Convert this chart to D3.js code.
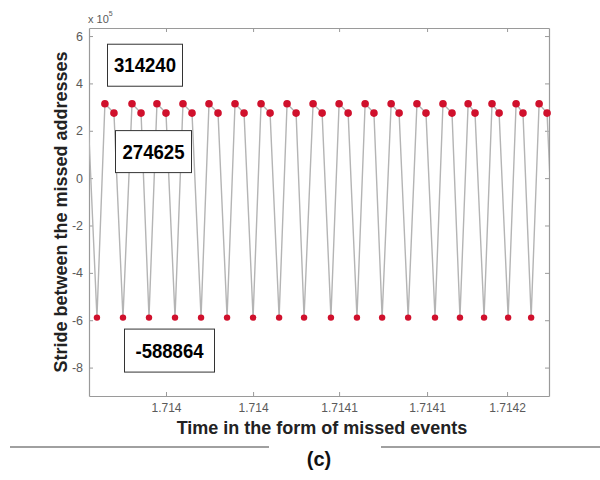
<!DOCTYPE html>
<html>
<head>
<meta charset="utf-8">
<script src="https://cdn.jsdelivr.net/npm/d3@7"></script>
<style>
  html, body { margin: 0; padding: 0; background: #fff; }
  svg { display: block; font-family: "Liberation Sans", Arial, sans-serif; }
</style>
</head>
<body>
<svg id="chart" width="600" height="480"></svg>
<script>
// ---- data ----
const eventTimes = [
  1.7139637, 1.7139679, 1.7139716, 1.7139758, 1.7139800, 1.7139842, 1.7139884, 1.7139921,
  1.7139958, 1.7140000, 1.7140042, 1.7140079, 1.7140121, 1.7140163, 1.7140200, 1.7140242,
  1.7140284, 1.7140321, 1.7140363, 1.7140405, 1.7140442, 1.7140484, 1.7140526, 1.7140563,
  1.7140605, 1.7140642, 1.7140684, 1.7140726, 1.7140767, 1.7140805, 1.7140847, 1.7140888,
  1.7140926, 1.7140967, 1.7141005, 1.7141047, 1.7141084, 1.7141126, 1.7141167, 1.7141209,
  1.7141251, 1.7141288, 1.7141330, 1.7141367, 1.7141405, 1.7141437, 1.7141479, 1.7141516,
  1.7141549, 1.7141591, 1.7141628, 1.7141660, 1.7141698, 1.7141735, 1.7141772, 1.7141814
];
const strides = [
  274625,
  -588864, 314240, 274625, -588864, 314240, 274625, -588864, 314240, 274625,
  -588864, 314240, 274625, -588864, 314240, 274625, -588864, 314240, 274625,
  -588864, 314240, 274625, -588864, 314240, 274625, -588864, 314240, 274625,
  -588864, 314240, 274625, -588864, 314240, 274625, -588864, 314240, 274625,
  -588864, 314240, 274625, -588864, 314240, 274625, -588864, 314240, 274625,
  -588864, 314240, 274625, -588864, 314240, 274625, -588864, 314240, 274625,
  -588864
];
const xDomain = [1.7139642, 1.7141781];
const yDomain = [-920000, 634000];
const xTickValues = [1.7140000, 1.7140405, 1.7140805, 1.7141214, 1.7141586];
const xTickLabels = ["1.714", "1.714", "1.7141", "1.7141", "1.7142"];
const yTickValues = [-800000, -600000, -400000, -200000, 0, 200000, 400000, 600000];
const yTickLabels = ["-8", "-6", "-4", "-2", "0", "2", "4", "6"];
const annotations = [
  { text: "314240", value: 314240 },
  { text: "274625", value: 274625 },
  { text: "-588864", value: -588864 }
];
const xTitle = "Time in the form of missed events";
const yTitle = "Stride between the missed addresses";
const panelLabel = "(c)";

// ---- layout ----
const svg = d3.select("#chart");
const L = 89, R = 549, T = 28, B = 396;
const x = d3.scaleLinear().domain(xDomain).range([L, R]);
const y = d3.scaleLinear().domain(yDomain).range([B, T]);
const axisColor = "#9a9a9a";
const tickTextColor = "#5a5a5a";

svg.append("defs").append("clipPath").attr("id", "plotclip")
  .append("rect").attr("x", L).attr("y", T).attr("width", R - L).attr("height", B - T);

// axes (MATLAB style box with inward ticks)
function styleAxis(g) {
  g.select(".domain").attr("stroke", axisColor).attr("stroke-width", 1.2);
  g.selectAll(".tick line").attr("stroke", axisColor).attr("stroke-width", 1);
  g.selectAll(".tick text").attr("fill", tickTextColor);
}
const xAxisB = svg.append("g").attr("transform", `translate(0,${B})`)
  .call(d3.axisBottom(x).tickValues(xTickValues).tickSizeInner(-4).tickSizeOuter(0)
    .tickPadding(7).tickFormat((d, i) => xTickLabels[i]));
xAxisB.selectAll(".tick text").attr("font-size", 12);
styleAxis(xAxisB);
const xAxisT = svg.append("g").attr("transform", `translate(0,${T})`)
  .call(d3.axisTop(x).tickValues(xTickValues).tickSizeInner(-4).tickSizeOuter(0).tickFormat(""));
styleAxis(xAxisT);
const yAxisL = svg.append("g").attr("transform", `translate(${L},0)`)
  .call(d3.axisLeft(y).tickValues(yTickValues).tickSizeInner(-4).tickSizeOuter(0)
    .tickPadding(6).tickFormat((d, i) => yTickLabels[i]));
yAxisL.selectAll(".tick text").attr("font-size", 12.5);
styleAxis(yAxisL);
const yAxisR = svg.append("g").attr("transform", `translate(${R},0)`)
  .call(d3.axisRight(y).tickValues(yTickValues).tickSizeInner(-4).tickSizeOuter(0).tickFormat(""));
styleAxis(yAxisR);

// exponent label
const expo = svg.append("text").attr("x", L - 1).attr("y", 23)
  .attr("fill", tickTextColor).attr("font-size", 11);
expo.append("tspan").text("x 10");
expo.append("tspan").attr("dy", -7).attr("font-size", 7).text("5");

// data line & markers
const pts = eventTimes.map((t, i) => ({ t, v: strides[i] }));
const plot = svg.append("g").attr("clip-path", "url(#plotclip)");
plot.append("path").datum(pts)
  .attr("fill", "none").attr("stroke", "#b4b4b4").attr("stroke-width", 1.4)
  .attr("d", d3.line().x(d => x(d.t)).y(d => y(d.v)));
svg.append("g").selectAll("circle")
  .data(pts.filter(d => d.t >= xDomain[0] && d.t <= xDomain[1]))
  .join("circle")
  .attr("cx", d => x(d.t)).attr("cy", d => y(d.v))
  .attr("r", d => d.v < 0 ? 3.2 : 3.8)
  .attr("fill", "#d0102c");

// annotation boxes
const boxPos = [
  { bx: L + 18, by: y(annotations[0].value) - 60, w: 75, h: 42, tw: 62 },
  { bx: L + 26, by: y(annotations[1].value) + 17, w: 76, h: 42, tw: 62 },
  { bx: L + 35, by: y(annotations[2].value) + 11, w: 90, h: 43, tw: 68 }
];
annotations.forEach((a, i) => {
  const p = boxPos[i];
  svg.append("rect").attr("x", p.bx + 0.5).attr("y", p.by + 0.5)
    .attr("width", p.w).attr("height", p.h)
    .attr("fill", "#fff").attr("stroke", "#333").attr("stroke-width", 1);
  svg.append("text").attr("x", p.bx + p.w / 2 + 0.5).attr("y", p.by + p.h / 2 + 7.5)
    .attr("text-anchor", "middle").attr("font-weight", "bold").attr("font-size", 20)
    .attr("textLength", p.tw).attr("lengthAdjust", "spacingAndGlyphs")
    .attr("fill", "#000").text(a.text);
});

// titles
svg.append("text").attr("x", 322).attr("y", 434)
  .attr("text-anchor", "middle").attr("font-weight", "bold").attr("font-size", 18)
  .attr("fill", "#222").text(xTitle);
svg.append("text").attr("transform", `translate(67,${212}) rotate(-90)`)
  .attr("text-anchor", "middle").attr("font-weight", "bold").attr("font-size", 18)
  .attr("fill", "#222").text(yTitle);

// separator lines and panel label
svg.append("line").attr("x1", 10).attr("x2", 269).attr("y1", 447).attr("y2", 447)
  .attr("stroke", "#808080").attr("stroke-width", 1.5);
svg.append("line").attr("x1", 381).attr("x2", 600).attr("y1", 447).attr("y2", 447)
  .attr("stroke", "#808080").attr("stroke-width", 1.5);
svg.append("text").attr("x", 319).attr("y", 466)
  .attr("text-anchor", "middle").attr("font-weight", "bold").attr("font-size", 20)
  .attr("fill", "#111").text(panelLabel);
</script>
</body>
</html>
